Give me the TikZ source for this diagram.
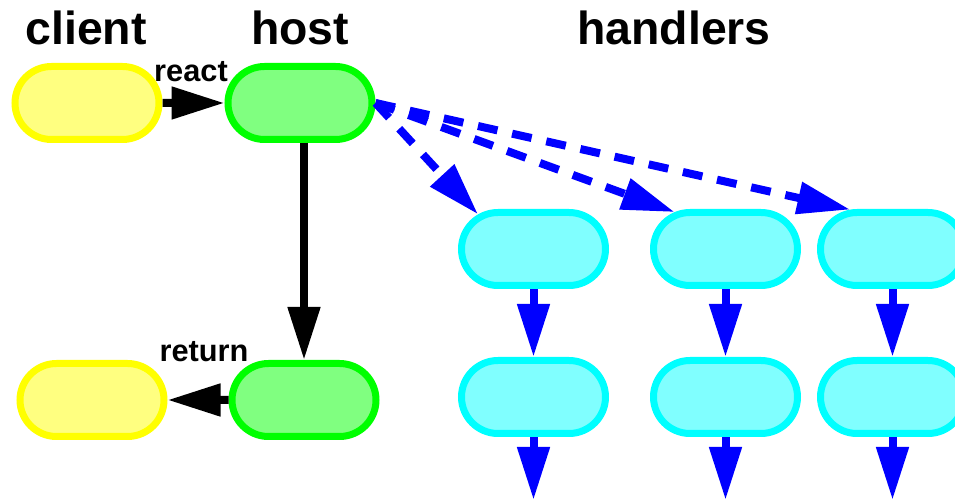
\documentclass[tikz,border=0pt]{standalone}
\usepackage{fontspec}
\setmainfont{Liberation Sans}
\usepackage{tikz}
\usetikzlibrary{arrows.meta, shapes.misc}
\usetikzlibrary{positioning, calc}

\definecolor{clientline}{RGB}{255,255,0}
\definecolor{clientfill}{RGB}{255,255,128}
\definecolor{hostline}{RGB}{0,255,0}
\definecolor{hostfill}{RGB}{128,255,128}
\definecolor{handlerline}{RGB}{0,255,255}
\definecolor{handlerfill}{RGB}{128,255,255}

\tikzset{
	pill/.style={rounded rectangle, line width=0.14cm, minimum width=2.88cm, minimum height=1.46cm, inner sep=0pt},
	clientbox/.style={pill, draw=clientline, fill=clientfill},
	hostbox/.style={pill, draw=hostline, fill=hostfill},
	handlerbox/.style={pill, draw=handlerline, fill=handlerfill},
	title/.style={font=\bfseries\fontsize{26.4}{30}\selectfont, anchor=base},
	tag/.style={font=\bfseries\fontsize{17.5}{20}\selectfont, anchor=base},
	flow/.style={line width=0.16cm, -{Triangle[length=1.06cm, width=0.62cm]}},
	call/.style={flow, blue, dash pattern=on 0.4cm off 0.3cm}
}

\begin{document}
\begin{tikzpicture}
			\useasboundingbox (0,0) rectangle (19.1,-10);
			% titles
			\node[title] (tclient) at (1.72,-0.9) {client};
			\node[title] (thost) at (6.0,-0.9) {host};
			\node[title] (thandlers) at (13.48,-0.9) {handlers};
			% client and host
			\node[clientbox] (client) at (1.74,-2.06) {};
			\node[hostbox] (host) at (6.0,-2.06) {};
			\node[clientbox] (back) at (1.84,-8.0) {};
			\node[hostbox] (done) at (6.08,-8.0) {};
			% handlers
			\node[handlerbox] (h1) at (10.67,-4.98) {};
			\node[handlerbox, right=0.82cm of h1] (h2) {};
			\node[handlerbox, right=0.32cm of h2] (h3) {};
			\node[handlerbox, below=1.36cm of h1] (g1) {};
			\node[handlerbox, below=1.36cm of h2] (g2) {};
			\node[handlerbox, below=1.36cm of h3] (g3) {};
			\coordinate (e1) at (g1 |- 0,-10);
			\coordinate (e2) at (g2 |- 0,-10);
			\coordinate (e3) at (g3 |- 0,-10);
			% labels
			\node[tag] (react) at (3.82,-1.64) {react};
			\node[tag] (return) at (4.08,-7.24) {return};
			% connectors
			\draw[flow] (client) -- (host);
			\draw[flow] (host.south -| done.north) -- (done.north);
			\draw[flow] (done) -- (back);
			\draw[call] (host.east) -- (h1.148);
			\draw[call] (host.east) -- (h2.144);
			\draw[call] (host.east) -- (h3.137);
			\draw[flow, blue] (h1) -- (g1);
			\draw[flow, blue] (h2) -- (g2);
			\draw[flow, blue] (h3) -- (g3);
			\draw[flow, blue] (g1) -- (e1);
			\draw[flow, blue] (g2) -- (e2);
			\draw[flow, blue] (g3) -- (e3);
		\end{tikzpicture}
\end{document}
